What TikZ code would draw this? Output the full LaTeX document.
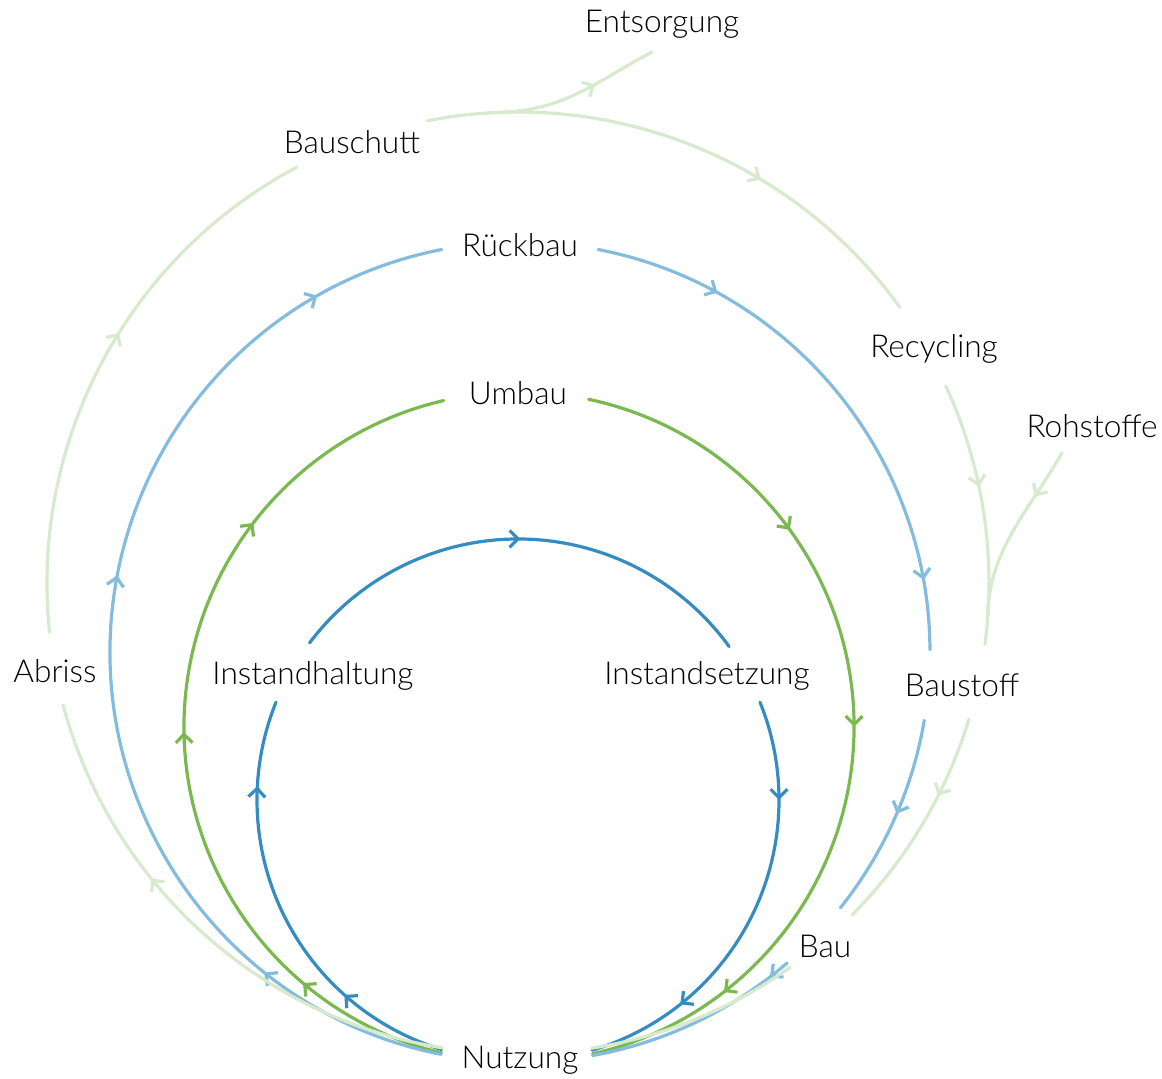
\documentclass[tikz,border=0pt]{standalone}
\usepackage{fontspec}
\IfFontExistsTF{Lato Light}{\setmainfont{Lato Light}}{\setmainfont{Lato}}
\usetikzlibrary{arrows.meta,decorations.markings}
\definecolor{dblue}{HTML}{348CC1}
\definecolor{mgreen}{HTML}{7AB850}
\definecolor{lblue}{HTML}{84BCDE}
\definecolor{lgreen}{HTML}{D7EACD}
\tikzset{
  lbl/.style={anchor=base,inner sep=0pt,font=\fontsize{15.8}{19}\selectfont},
  ring/.style={line width=1.6pt,line cap=round},
  arr/.style={postaction={decorate,decoration={markings,
    mark=at position #1 with {\arrow{Straight Barb[length=4.2pt,width=8.4pt]}}}}}
}
\begin{document}
\begin{tikzpicture}[x=0.5pt,y=0.5pt]
\useasboundingbox (0,0) rectangle (1162,1079);
\coordinate (cI) at (518,279);
\coordinate (cU) at (519,352);
\coordinate (cR) at (520,427);
\coordinate (cA) at (518,496);
%
\node [lbl] (vEnt) at (662,1046) {Entsorgung};
\node [lbl] (vSchutt) at (352,925) {Bauschutt};
\node [lbl] (vRueck) at (520,822) {Rückbau};
\node [lbl] (vUmbau) at (518,674) {Umbau};
\node [lbl] (vRec) at (934,721) {Recycling};
\node [lbl] (vRoh) at (1092,641) {Rohstoffe};
\node [lbl] (vHalt) at (313,394) {Instandhaltung};
\node [lbl] (vSetz) at (707,394) {Instandsetzung};
\node [lbl] (vAbr) at (55,396) {Abriss};
\node [lbl] (vStoff) at (962,382) {Baustoff};
\node [lbl] (vBau) at (825,121) {Bau};
\node [lbl] (vNutz) at (520,10) {Nutzung};
%
% Instandhaltung / Instandsetzung
\draw [ring,dblue,arr=0.26,arr=0.8] ([shift={(253:261)}]cI) arc[start angle=253,end angle=158,radius=261];
\draw [ring,dblue,arr=0.5] ([shift={(143:261)}]cI) arc[start angle=143,end angle=36,radius=261];
\draw [ring,dblue,arr=0.23,arr=0.77] ([shift={(22:261)}]cI) arc[start angle=22,end angle=-73.5,radius=261];
% Umbau
\draw [ring,mgreen,arr=0.174,arr=0.493,arr=0.743] ([shift={(256.6:335)}]cU) arc[start angle=256.6,end angle=103,radius=335];
\draw [ring,mgreen,arr=0.27,arr=0.502,arr=0.839] ([shift={(78:335)}]cU) arc[start angle=78,end angle=-77.3,radius=335];
% Rueckbau
\draw [ring,lblue,arr=0.174,arr=0.568,arr=0.882] ([shift={(258.9:410)}]cR) arc[start angle=258.9,end angle=101,radius=410];
\draw [ring,lblue,arr=0.226,arr=0.875] ([shift={(79:410)}]cR) arc[start angle=79,end angle=0.3,radius=410];
\draw [ring,lblue,arr=0.47] ([shift={(-9.6:410)}]cR) arc[start angle=-9.6,end angle=-38.6,radius=410];
\draw [ring,lblue,arr=0.1] ([shift={(-49.4:410)}]cR) arc[start angle=-49.4,end angle=-79.8,radius=410];
% Abriss
\draw [ring,lgreen,arr=0.637] ([shift={(260.8:471)}]cA) arc[start angle=260.8,end angle=195,radius=471];
\draw [ring,lgreen,arr=0.56] ([shift={(186:471)}]cA) arc[start angle=186,end angle=118,radius=471];
\draw [ring,lgreen,arr=0.645] ([shift={(101.1:471)}]cA) arc[start angle=101.1,end angle=35.8,radius=471];
\draw [ring,lgreen,arr=0.4] ([shift={(24.7:471)}]cA) arc[start angle=24.7,end angle=-7.5,radius=471];
\draw [ring,lgreen,arr=0.36] ([shift={(-16.8:471)}]cA) arc[start angle=-16.8,end angle=-44.8,radius=471];
\draw [ring,lgreen] ([shift={(-54.7:471)}]cA) arc[start angle=-54.7,end angle=-81,radius=471];
% branches
\coordinate (bEnt) at ([shift={(92:471)}]cA);
\coordinate (eEnt) at (652,1027);
\coordinate (bRoh) at (1062,626);
\coordinate (eRoh) at ([shift={(-5:471)}]cA);
\draw [ring,lgreen,arr=0.6] (bEnt) to[out=2,in=208] (eEnt);
\draw [ring,lgreen,arr=0.27] (bRoh) to[out=240,in=90] (eRoh);
\end{tikzpicture}
\end{document}
